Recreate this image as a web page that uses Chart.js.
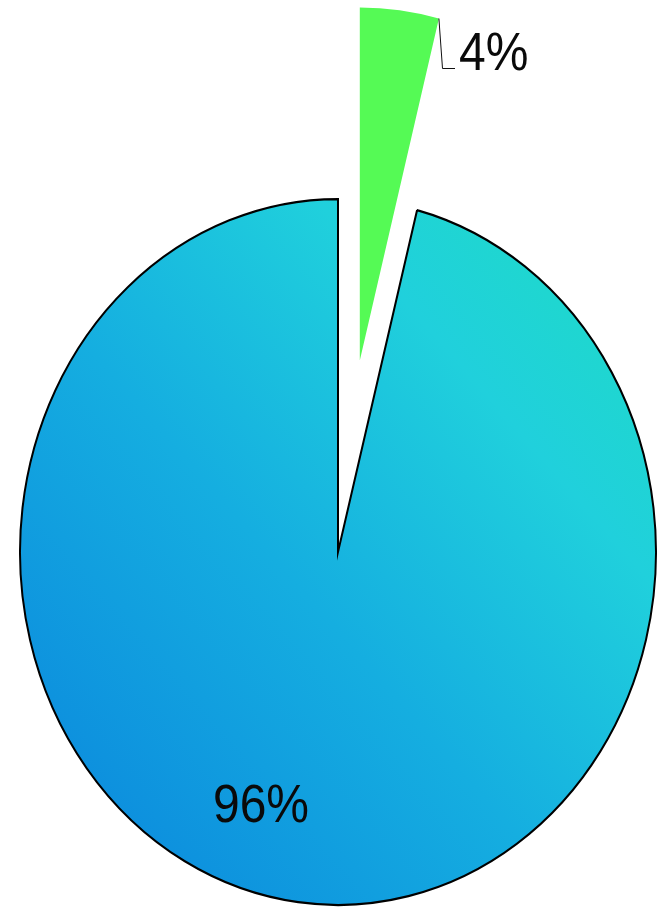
<!DOCTYPE html>
<html>
<head>
<meta charset="utf-8">
<script src="https://cdn.jsdelivr.net/npm/chart.js@4"></script>
<style>
  html, body { margin: 0; padding: 0; background: #ffffff; }
  canvas { display: block; }
</style>
</head>
<body>
<canvas id="c" width="658" height="908"></canvas>
<script>
// ---- data ----
const categories = ['Share A', 'Share B'];
const values = [4, 96];
const valueLabels = ['4%', '96%'];

// ---- styling constants ----
const CX = 338, CY = 552;      // pie centre on the page
const RADIUS = 318;            // horizontal radius
const SY = 1.11;               // vertical stretch (elliptical pie)
const EXPLODE = [174, 0];      // pull-out distance per slice
const GREEN = '#55fa55';

function yu(yf) { return CY + (yf - CY) / SY; } // final y -> unscaled y

function blueGradient(ctx) {
  const g = ctx.createLinearGradient(30, yu(890), 640, yu(230));
  g.addColorStop(0, '#0a84dd');
  g.addColorStop(0.45, '#15aee0');
  g.addColorStop(0.75, '#20d0dc');
  g.addColorStop(1, '#1edcc6');
  return g;
}

const ellipsePlugin = {
  id: 'ellipsePie',
  beforeDatasetDraw(chart, args) {
    const ctx = chart.ctx;
    const arcs = args.meta.data;
    const cx = arcs[0].x, cy = arcs[0].y;
    ctx.save();
    ctx.translate(cx, cy);
    ctx.scale(1, SY);
    ctx.translate(-cx, -cy);
    arcs.forEach((arc, i) => {
      ctx.save();
      const d = EXPLODE[i] || 0;
      if (d) {
        const mid = (arc.startAngle + arc.endAngle) / 2;
        ctx.translate(Math.cos(mid) * d, Math.sin(mid) * d);
      }
      arc.draw(ctx);
      ctx.restore();
    });
    ctx.restore();
    return false;
  },
  afterDraw(chart) {
    const ctx = chart.ctx;
    const arcs = chart.getDatasetMeta(0).data;
    const a0 = arcs[0];
    const mid = (a0.startAngle + a0.endAngle) / 2;
    // outer end corner of the exploded small slice
    const px = a0.x + Math.cos(mid) * EXPLODE[0] + Math.cos(a0.endAngle) * a0.outerRadius;
    const py = a0.y + (Math.sin(mid) * EXPLODE[0] + Math.sin(a0.endAngle) * a0.outerRadius) * SY;

    ctx.save();
    ctx.strokeStyle = '#111';
    ctx.lineWidth = 1;
    ctx.beginPath();
    ctx.moveTo(px, py);
    ctx.lineTo(442.5, 68.5);
    ctx.lineTo(455, 68.5);
    ctx.stroke();

    ctx.fillStyle = '#0a0a0a';
    ctx.font = '48px "Liberation Sans", Arial, sans-serif';
    ctx.textBaseline = 'alphabetic';

    // "4%"
    ctx.save();
    ctx.translate(459, 70);
    ctx.scale(1, 1.13);
    ctx.textAlign = 'left';
    ctx.fillText(valueLabels[0], 0, 0);
    ctx.restore();

    // "96%"
    ctx.save();
    ctx.translate(261, 822);
    ctx.scale(1, 1.13);
    ctx.textAlign = 'center';
    ctx.fillText(valueLabels[1], 0, 0);
    ctx.restore();
    ctx.restore();
  }
};

new Chart(document.getElementById('c'), {
  type: 'pie',
  data: {
    labels: categories,
    datasets: [{
      data: values,
      backgroundColor: (c) => c.dataIndex === 0 ? GREEN : blueGradient(c.chart.ctx),
      borderColor: ['rgba(0,0,0,0)', '#000000'],
      borderWidth: [0, 2],
      borderJoinStyle: 'miter',
      clip: false
    }]
  },
  options: {
    responsive: false,
    animation: false,
    devicePixelRatio: 1,
    radius: RADIUS,
    rotation: 0,
    layout: { padding: { left: 18, top: 196, right: 0, bottom: 0 } },
    plugins: {
      legend: { display: false },
      tooltip: { enabled: false }
    }
  },
  plugins: [ellipsePlugin]
});
</script>
</body>
</html>
